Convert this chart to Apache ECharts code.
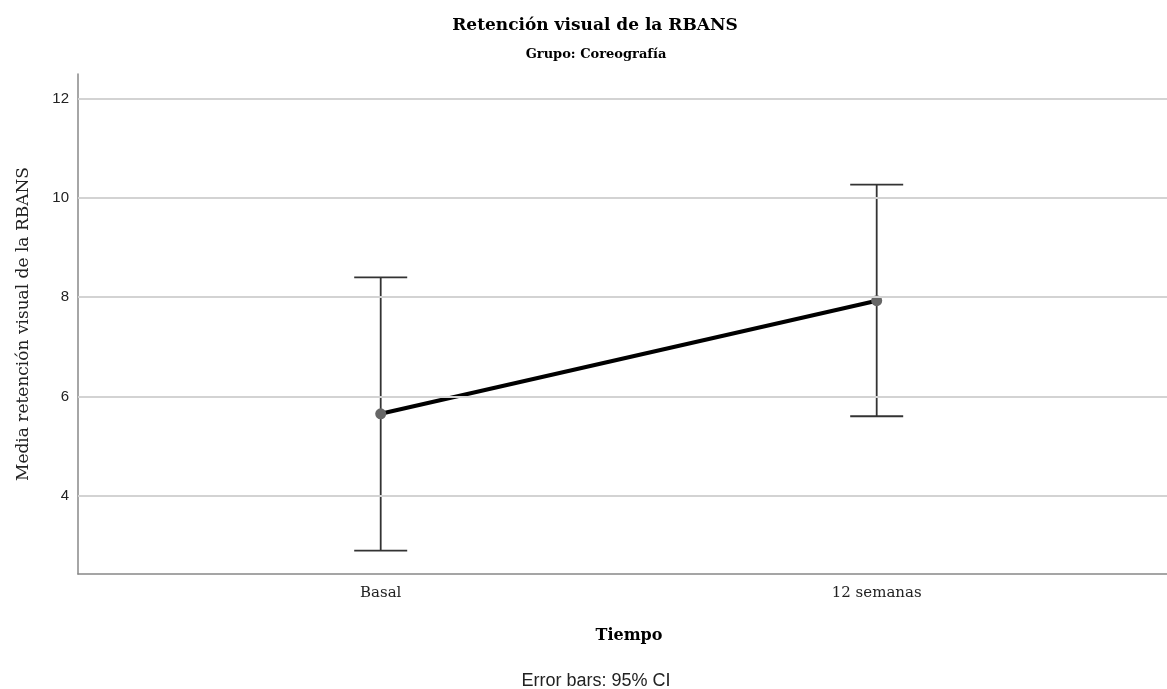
<!DOCTYPE html>
<html>
<head>
<meta charset="utf-8">
<script src="https://cdn.jsdelivr.net/npm/echarts@6/dist/echarts.min.js"></script>
<style>
  html, body { margin: 0; padding: 0; background: #fff; }
  #chart { width: 1167px; height: 689px; }
</style>
</head>
<body>
<div id="chart"></div>
<script>
// Time points and group means with their 95% confidence limits
const categories = ['Basal', '12 semanas'];
const means = [5.65, 7.93];
const lowerCI = [2.89, 5.60];
const upperCI = [8.40, 10.27];
const yTicks = [4, 6, 8, 10, 12];

const serif = '"DejaVu Serif", "Liberation Serif", serif';
const sans = '"Liberation Sans", Arial, sans-serif';

const chart = echarts.init(document.getElementById('chart'));

const meanPoints = means.map((m, i) => [i, m]);
const barData = categories.map((c, i) => [i, lowerCI[i], upperCI[i]]);

chart.setOption({
  animation: false,
  backgroundColor: '#ffffff',
  title: [
    {
      text: 'Retención visual de la RBANS',
      left: 590, top: 12, textAlign: 'center',
      textStyle: { fontFamily: serif, fontWeight: 'bold', fontSize: 17, color: '#000' }
    },
    {
      text: 'Grupo: Coreografía',
      left: 591, top: 43, textAlign: 'center',
      textStyle: { fontFamily: serif, fontWeight: 'bold', fontSize: 13, color: '#000' }
    },
    {
      text: 'Error bars: 95% CI',
      left: 591, top: 667, textAlign: 'center',
      textStyle: { fontFamily: sans, fontWeight: 'normal', fontSize: 18, color: '#222' }
    }
  ],
  grid: { left: 78, right: 0, top: 74, bottom: 115 },
  xAxis: {
    type: 'value',
    min: -0.6103,
    max: 1.5853,
    name: 'Tiempo',
    nameLocation: 'middle',
    nameGap: 54,
    nameTextStyle: {
      fontFamily: serif, fontWeight: 'bold', fontSize: 16, color: '#000',
      padding: [0, 0, 0, 13]
    },
    axisLine: { show: true, onZero: false, lineStyle: { color: '#888', width: 1.5 } },
    axisTick: { show: false },
    splitLine: { show: false },
    axisLabel: {
      customValues: categories.map((c, i) => i),
      formatter: v => categories[Math.round(v)] || '',
      margin: 12,
      fontFamily: serif, fontSize: 15, color: '#222'
    }
  },
  yAxis: {
    type: 'value',
    min: 2.42,
    max: 12.5,
    name: 'Media retención visual de la RBANS',
    nameLocation: 'middle',
    nameGap: 46,
    nameTextStyle: { fontFamily: serif, fontSize: 17, color: '#222' },
    axisLine: { show: true, onZero: false, lineStyle: { color: '#888', width: 1.5 } },
    axisTick: { show: false },
    splitLine: { show: false },
    axisLabel: {
      customValues: yTicks,
      margin: 9,
      fontFamily: sans, fontSize: 15, color: '#222'
    }
  },
  series: [
    {
      // horizontal reference lines at each labelled y value
      type: 'line',
      data: [],
      silent: true,
      z: 1,
      markLine: {
        silent: true,
        symbol: 'none',
        label: { show: false },
        lineStyle: { color: '#d3d3d3', width: 2, type: 'solid' },
        data: yTicks.map(v => ({ yAxis: v }))
      }
    },
    {
      // 95% CI whiskers with caps
      type: 'custom',
      z: 2,
      data: barData,
      renderItem: (params, api) => {
        const x = api.value(0);
        const lo = api.coord([x, api.value(1)]);
        const hi = api.coord([x, api.value(2)]);
        const half = 26.5;
        const style = { stroke: '#333', lineWidth: 1.8, fill: null };
        return {
          type: 'group',
          children: [
            { type: 'line', shape: { x1: lo[0], y1: lo[1], x2: hi[0], y2: hi[1] }, style },
            { type: 'line', shape: { x1: hi[0] - half, y1: hi[1], x2: hi[0] + half, y2: hi[1] }, style },
            { type: 'line', shape: { x1: lo[0] - half, y1: lo[1], x2: lo[0] + half, y2: lo[1] }, style }
          ]
        };
      }
    },
    {
      // mean profile across time points
      type: 'line',
      z: 3,
      data: meanPoints,
      symbol: 'circle',
      symbolSize: 11,
      itemStyle: { color: '#666' },
      lineStyle: { color: '#000', width: 4 }
    }
  ]
});
</script>
</body>
</html>
